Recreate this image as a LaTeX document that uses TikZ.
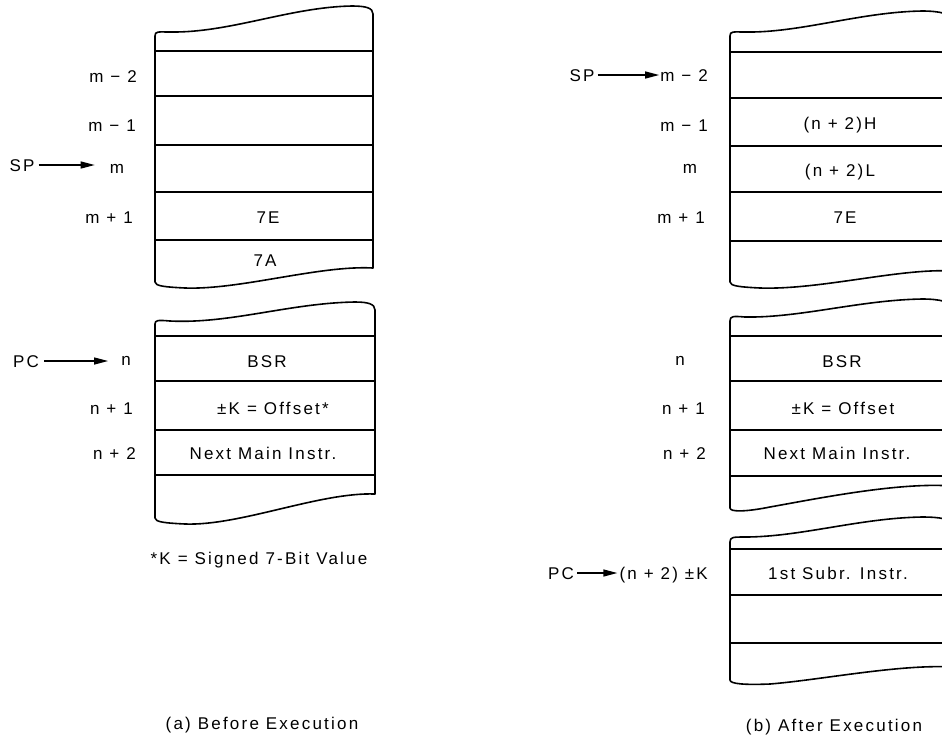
\documentclass[tikz,border=0pt]{standalone}
\usepackage{fontspec}
\setmainfont{Liberation Sans}[LetterSpace=13]
\usetikzlibrary{arrows.meta}
\begin{document}
\begin{tikzpicture}[x=1pt,y=-1pt,
  every node/.style={font=\fontsize{17}{20}\selectfont, inner sep=0pt, text height=12.2pt, text depth=0pt},
  stackline/.style={line width=1.6pt, line join=round},
  cellline/.style={line width=1.4pt},
  ptr/.style={line width=1.3pt, -{Triangle[length=14pt,width=7pt]}}]
\useasboundingbox (0,0) rectangle (942,740);
\clip (0,0) rectangle (942,740);

% ---------- (a) Before Execution ----------
% stack memory
\draw[stackline] (155,36) .. controls (155,31) and (158,32) .. (170,32)
  .. controls (230,33) and (290,7) .. (352,6) .. controls (366,6) and (373,8) .. (373,14)
  -- (373,268) .. controls (320,265) and (240,290) .. (185,288)
  .. controls (165,287) and (155,286) .. (155,282) -- cycle;
\foreach \yy in {51,96,145,192,240} \draw[cellline] (155,\yy) -- (373,\yy);
% program memory
\draw[stackline] (155,324) .. controls (155,320) and (158,320) .. (170,321)
  .. controls (230,324) and (290,303) .. (355,302) .. controls (368,302) and (375,304) .. (375,310)
  -- (375,494) .. controls (320,492) and (240,526) .. (185,524)
  .. controls (165,523) and (155,522) .. (155,518) -- cycle;
\foreach \yy in {336,381,430,475} \draw[cellline] (155,\yy) -- (375,\yy);

\node[anchor=east] (am2) at (137,76) {m − 2};
\node[anchor=east] (am1) at (136,125) {m − 1};
\node (am) at (117,167) {m};
\node[anchor=east] (amp1) at (133,217) {m + 1};
\node (asp) at (22,165) {SP};
\draw[ptr, shorten <=4pt, shorten >=15pt] (asp.east) -- (asp.east -| am.west);
\node (a7e) at (268,217) {7E};
\node (a7a) at (265,260) {7A};

\node (an) at (126,359) {n};
\node[anchor=east] (anp1) at (133,408) {n + 1};
\node[anchor=east] (anp2) at (136,453) {n + 2};
\node (apc) at (26,361) {PC};
\draw[ptr, shorten <=5pt, shorten >=13pt] (apc.east) -- (apc.east -| an.west);
\node (absr) at (267,361) {BSR};
\node (aoff) at (273,408) {±K = Offset*};
\node (anext) at (263,453) {Next Main Instr.};
\node (anote) at (259,558) {*K = Signed 7-Bit Value};
\node (acap) at (262,723) {(a) Before Execution};

% ---------- (b) After Execution ----------
\draw[stackline] (730,36) .. controls (730,31) and (733,32) .. (745,32)
  .. controls (800,33) and (860,12) .. (922,11) .. controls (940,11) and (952,14) .. (952,20)
  -- (952,271) .. controls (900,268) and (820,290) .. (760,288)
  .. controls (740,287) and (730,286) .. (730,282) -- cycle;
\foreach \yy in {52,98,146,192,241} \draw[cellline] (730,\yy) -- (952,\yy);

\draw[stackline] (730,321) .. controls (730,316) and (733,316) .. (745,317)
  .. controls (800,318) and (860,300) .. (922,299) .. controls (940,299) and (952,302) .. (952,308)
  -- (952,486) .. controls (900,482) and (820,498) .. (770,507)
  .. controls (745,512) and (730,512) .. (730,508) -- cycle;
\foreach \yy in {336,381,430,476} \draw[cellline] (730,\yy) -- (952,\yy);

\draw[stackline] (730,542) .. controls (730,537) and (733,537) .. (745,537)
  .. controls (800,537) and (860,518) .. (922,517) .. controls (940,517) and (952,519) .. (952,525)
  -- (952,667) .. controls (900,664) and (820,680) .. (770,684)
  .. controls (745,685) and (730,684) .. (730,680) -- cycle;
\foreach \yy in {549,595,643} \draw[cellline] (730,\yy) -- (952,\yy);

\node[anchor=east] (bm2) at (708,75) {m − 2};
\node (bsp) at (582,75) {SP};
\draw[ptr, shorten <=3pt, shorten >=1pt] (bsp.east) -- (bsp.east -| bm2.west);
\node[anchor=east] (bm1) at (708,125) {m − 1};
\node (bm) at (690,167) {m};
\node[anchor=east] (bmp1) at (705,217) {m + 1};
\node (bh) at (840,123) {(n + 2)H};
\node (bl) at (840,170) {(n + 2)L};
\node (b7e) at (845,217) {7E};

\node (bn) at (680,359) {n};
\node[anchor=east] (bnp1) at (705,408) {n + 1};
\node[anchor=east] (bnp2) at (706,453) {n + 2};
\node (bbsr) at (842,361) {BSR};
\node (boff) at (843,408) {±K = Offset};
\node (bnext) at (837,453) {Next Main Instr.};

\node[anchor=east] (btgt) at (708,573) {(n + 2) ±K};
\node (bpc) at (561,573) {PC};
\draw[ptr, shorten <=3pt, shorten >=2pt] (bpc.east) -- (bpc.east -| btgt.west);
\node (bsub) at (838,573) {1st Subr. Instr.};
\node (bcap) at (834,725) {(b) After Execution};
\end{tikzpicture}
\end{document}
